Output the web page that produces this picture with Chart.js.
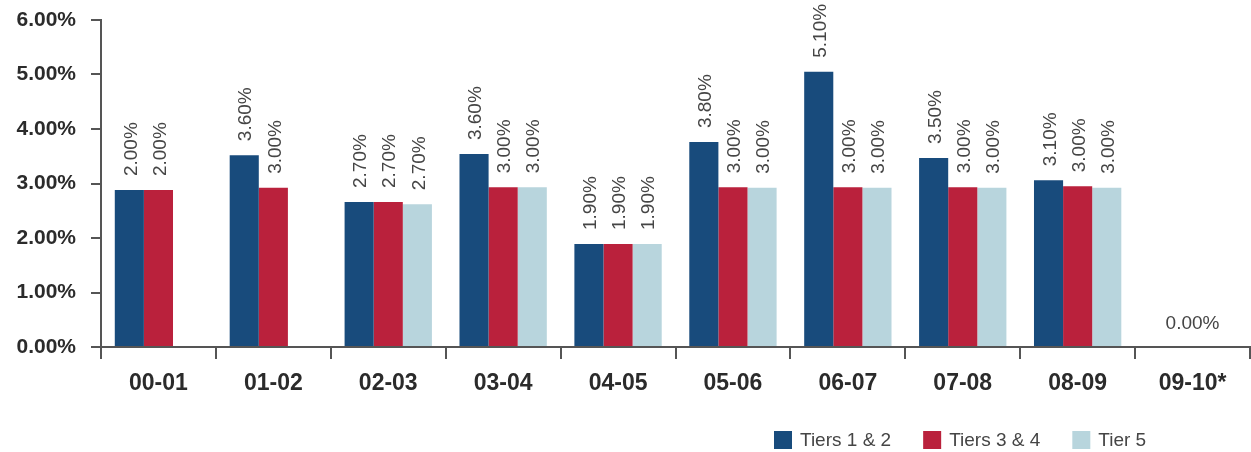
<!DOCTYPE html>
<html>
<head>
<meta charset="utf-8">
<script src="https://cdn.jsdelivr.net/npm/chart.js@4/dist/chart.umd.min.js"></script>
<style>
  html, body { margin: 0; padding: 0; background: #ffffff; }
  #wrap { width: 1251px; height: 452px; position: relative; }
</style>
</head>
<body>
<div id="wrap"><canvas id="c" width="1251" height="452"></canvas></div>
<script>
// Categories (fiscal years)
const categories = ['00-01', '01-02', '02-03', '03-04', '04-05', '05-06', '06-07', '07-08', '08-09', '09-10*'];
const seriesNames = ['Tiers 1 & 2', 'Tiers 3 & 4', 'Tier 5'];

// Bar heights as drawn in the picture (percent)
const tiers12 = [2.88, 3.52, 2.66, 3.54, 1.89, 3.76, 5.05, 3.47, 3.06, null];
const tiers34 = [2.88, 2.92, 2.66, 2.93, 1.89, 2.93, 2.93, 2.93, 2.95, 0];
const tier5   = [null, null, 2.62, 2.93, 1.89, 2.92, 2.92, 2.92, 2.92, null];

// Data label texts as printed on the picture
const labels12 = ['2.00%', '3.60%', '2.70%', '3.60%', '1.90%', '3.80%', '5.10%', '3.50%', '3.10%', null];
const labels34 = ['2.00%', '3.00%', '2.70%', '3.00%', '1.90%', '3.00%', '3.00%', '3.00%', '3.00%', '0.00%'];
const labels5  = [null, null, '2.70%', '3.00%', '1.90%', '3.00%', '3.00%', '3.00%', '3.00%', null];

// Y axis ticks
const yTicks = [0, 1, 2, 3, 4, 5, 6];

const colors = ['#184B7C', '#BA213C', '#B8D5DD'];
const FONT = "'Liberation Sans', Arial, sans-serif";

const valueLabelPlugin = {
  id: 'valueLabels',
  afterDatasetsDraw(chart) {
    const ctx = chart.ctx;
    const all = [labels12, labels34, labels5];
    const vals = [tiers12, tiers34, tier5];
    ctx.save();
    ctx.fillStyle = '#454545';
    ctx.font = "19px " + FONT;
    chart.data.datasets.forEach((ds, i) => {
      const meta = chart.getDatasetMeta(i);
      meta.data.forEach((el, j) => {
        const txt = all[i][j];
        if (txt == null) return;
        const v = vals[i][j];
        if (v === 0) {
          ctx.textAlign = 'center';
          ctx.textBaseline = 'middle';
          ctx.fillText(txt, el.x, el.y - 23);
        } else {
          ctx.save();
          ctx.translate(el.x + 2, el.y - 14);
          ctx.rotate(-Math.PI / 2);
          ctx.textAlign = 'left';
          ctx.textBaseline = 'middle';
          ctx.fillText(txt, 0, 0);
          ctx.restore();
        }
      });
    });
    ctx.restore();
  }
};

const legendPlugin = {
  id: 'customLegend',
  afterDraw(chart) {
    const ctx = chart.ctx;
    ctx.save();
    ctx.font = "19px " + FONT;
    ctx.textBaseline = 'middle';
    ctx.textAlign = 'left';
    let x = 774;
    const yc = 440;
    chart.data.datasets.forEach((ds) => {
      ctx.fillStyle = ds.backgroundColor;
      ctx.fillRect(x, yc - 9, 18, 18);
      ctx.fillStyle = '#454545';
      ctx.fillText(ds.label, x + 26, yc + 1);
      x += 26 + ctx.measureText(ds.label).width + 32;
    });
    ctx.restore();
  }
};

new Chart(document.getElementById('c'), {
  type: 'bar',
  data: {
    labels: categories,
    datasets: [
      { label: seriesNames[0], data: tiers12, backgroundColor: colors[0] },
      { label: seriesNames[1], data: tiers34, backgroundColor: colors[1] },
      { label: seriesNames[2], data: tier5, backgroundColor: colors[2] }
    ]
  },
  options: {
    responsive: false,
    animation: false,
    devicePixelRatio: 1,
    layout: { padding: { top: 20, right: 1, left: 0, bottom: 0 } },
    datasets: { bar: { categoryPercentage: 0.76, barPercentage: 1.0, borderWidth: 0 } },
    plugins: {
      legend: { display: false },
      tooltip: { enabled: false },
      title: { display: false }
    },
    scales: {
      x: {
        offset: true,
        grid: { display: true, drawOnChartArea: false, drawTicks: true, tickLength: 12, color: '#555', lineWidth: 2, offset: true },
        border: { display: true, color: '#555', width: 2 },
        ticks: { color: '#2b2b2b', font: { family: FONT, size: 23, weight: 'bold' }, padding: 11, maxRotation: 0, autoSkip: false },
        afterFit(scale) { scale.height = 105; scale.paddingLeft = 0; scale.paddingRight = 0; }
      },
      y: {
        min: 0,
        max: 6,
        afterBuildTicks(scale) { scale.ticks = yTicks.map(v => ({ value: v })); },
        grid: { display: true, drawOnChartArea: false, drawTicks: true, tickLength: 10, color: '#555', lineWidth: 2 },
        border: { display: true, color: '#555', width: 2 },
        ticks: {
          color: '#2b2b2b',
          font: { family: FONT, size: 21, weight: 'bold' },
          padding: 15,
          callback: (v) => Number(v).toFixed(2) + '%'
        },
        afterFit(scale) { scale.width = 101; scale.paddingTop = 0; scale.paddingBottom = 0; }
      }
    }
  },
  plugins: [valueLabelPlugin, legendPlugin]
});
</script>
</body>
</html>
